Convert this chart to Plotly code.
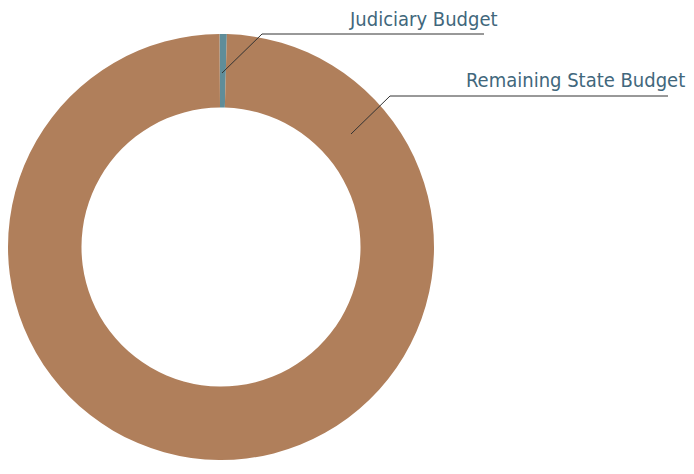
import plotly.graph_objects as go

labels = ["Judiciary Budget", "Remaining State Budget"]
values = [0.55, 99.45]
colors = ["#5F8D99", "#B07F5B"]

W, H = 694, 474

def px(x):
    return x / W

def py(y):
    return 1 - y / H

fig = go.Figure()
fig.add_trace(go.Pie(
    labels=labels, values=values, sort=False, direction="clockwise",
    rotation=-0.4, hole=0.655, textinfo="none", hoverinfo="label+percent",
    marker=dict(colors=colors, line=dict(width=0)),
    domain=dict(x=[px(8), px(434)], y=[py(460), py(34)]),
    showlegend=False,
))

line_style = dict(color="#333333", width=1)
# leader lines
fig.add_shape(type="path", xref="paper", yref="paper",
              path=f"M {px(222)} {py(73)} L {px(262)} {py(34)} L {px(484)} {py(34)}",
              line=line_style)
fig.add_shape(type="path", xref="paper", yref="paper",
              path=f"M {px(351)} {py(134)} L {px(390)} {py(96)} L {px(668)} {py(96)}",
              line=line_style)

font = dict(family="DejaVu Sans Condensed, sans-serif", size=20, color="#41677C")
fig.add_annotation(x=px(500), y=py(33), xref="paper", yref="paper", text=labels[0],
                   showarrow=False, xanchor="right", yanchor="bottom", font=font)
fig.add_annotation(x=px(687), y=py(94), xref="paper", yref="paper", text=labels[1],
                   showarrow=False, xanchor="right", yanchor="bottom", font=font)

fig.update_layout(width=W, height=H, margin=dict(l=0, r=0, t=0, b=0),
                  paper_bgcolor="white", plot_bgcolor="white")
fig.write_html("out.html", config={"displayModeBar": False},
               post_script="document.body.style.margin='0';")
